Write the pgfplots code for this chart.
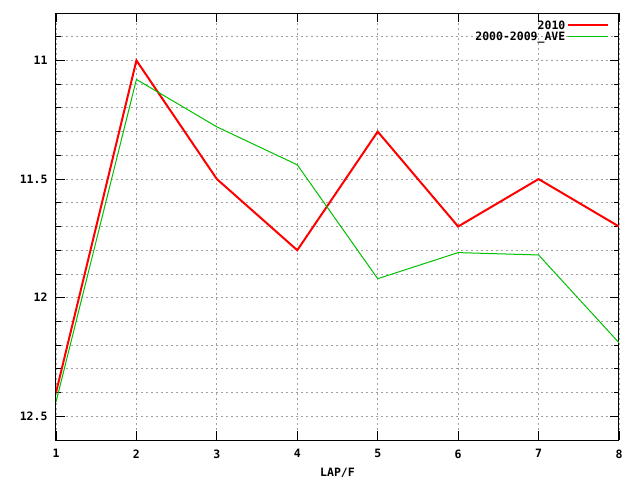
\documentclass[border=0pt]{standalone}
\usepackage{fontspec}
\setmainfont{DejaVu Sans Mono}
\usepackage{pgfplots}
\pgfplotsset{compat=1.18}
\definecolor{gpred}{RGB}{255,0,0}
\definecolor{gpgreen}{RGB}{0,192,0}
\definecolor{gpgrid}{RGB}{160,160,160}
\newcommand{\gpfont}{\fontsize{11.5}{13}\selectfont\bfseries}
\begin{document}
\begin{tikzpicture}[x=1pt,y=1pt]
\path[use as bounding box,fill=white] (0,0) rectangle (640,480);
\begin{axis}[
    at={(56pt,40pt)}, anchor=south west,
    scale only axis,
    width=563pt, height=427pt,
    xmin=1, xmax=8,
    ymin=10.8, ymax=12.6,
    y dir=reverse,
    xtick={1,...,8},
    ytick={11,11.5,12,12.5},
    yticklabels={11,11.5,12,12.5},
    minor ytick={10.9,11.1,11.2,11.3,11.4,11.6,11.7,11.8,11.9,12.1,12.2,12.3,12.4},
    grid=both,
    grid style={gpgrid, line width=0.8pt, dash pattern=on 2pt off 3pt},
    minor grid style={gpgrid, line width=0.8pt, dash pattern=on 2pt off 3pt},
    tick align=inside,
    major tick length=9pt,
    minor tick length=5pt,
    tick style={black, line width=0.8pt, solid},
    axis line style={black, line width=1pt},
    /pgf/number format/assume math mode=true,
    ticklabel style={font=\gpfont},
    xticklabel style={yshift=-6pt},
    yticklabel style={xshift=-5pt},
    xlabel={LAP/F},
    xlabel style={font=\gpfont, yshift=-3pt},
    legend style={draw=none, fill=none, font=\gpfont,
        at={(rel axis cs:0.985,0.99)}, anchor=north east,
        row sep=-3pt, inner sep=1pt},
    legend cell align=right,
    legend plot pos=right,
    legend image code/.code={\path (0pt,0pt) -- (6pt,0pt); \draw[#1, solid] (6pt,0pt) -- (40pt,0pt);},
]
\addplot[gpred, line width=2pt] coordinates {
    (1,12.40) (2,11.00) (3,11.50) (4,11.80) (5,11.30) (6,11.70) (7,11.50) (8,11.70)
};
\addlegendentry{2010}
\addplot[gpgreen, line width=1pt] coordinates {
    (1,12.44) (2,11.08) (3,11.28) (4,11.44) (5,11.92) (6,11.81) (7,11.82) (8,12.19)
};
\addlegendentry{2000-2009\_AVE}
\end{axis}
\end{tikzpicture}
\end{document}
